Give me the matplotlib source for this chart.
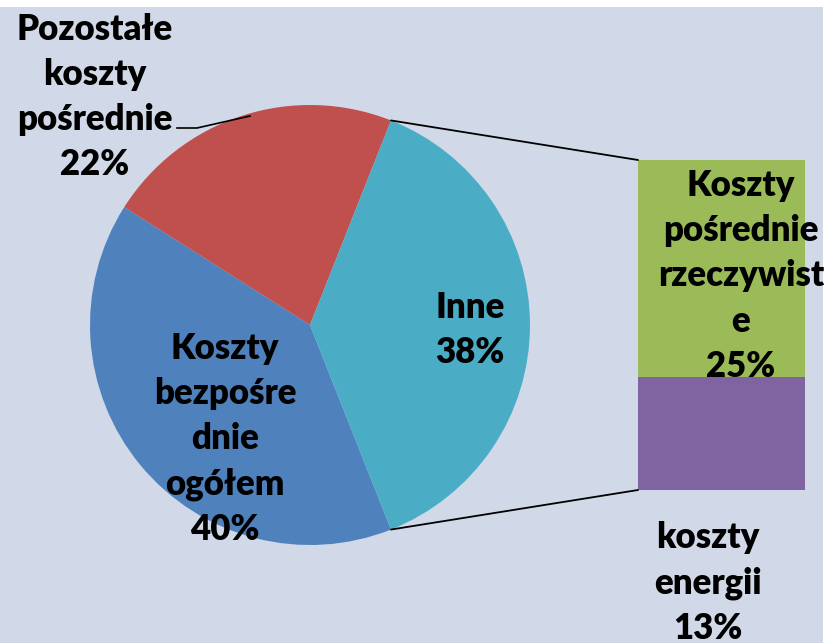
#!/usr/bin/env python3
"""
Pie-of-pie chart: struktura kosztów (Inne rozbite na słupek).
"""
import numpy as np
import matplotlib.pyplot as plt
from matplotlib.patches import ConnectionPatch, Rectangle

W, H = 825, 643

# main pie
pie_labels = ["Koszty\nbezpośre\ndnie\nogółem\n40%", "Pozostałe\nkoszty\npośrednie\n22%", "Inne\n38%"]
pie_values = [40, 22, 38]
pie_colors = ["#4f81bd", "#c0504d", "#4bacc6"]

# breakdown of "Inne"
bar_labels = ["Koszty\npośrednie\nrzeczywist\ne\n25%", "koszty\nenergii\n13%"]
bar_values = [25, 13]
bar_colors = ["#9bbb59", "#8064a2"]

BG = "#d1d8e7"


def px(x, y, w, h):
    # pixel box (top-left origin) -> figure fraction rect
    return [x / W, (H - y - h) / H, w / W, h / H]


def main() -> None:
    plt.rcParams["font.family"] = ["Lato", "DejaVu Sans"]
    fig = plt.figure(figsize=(W / 100, H / 100), dpi=100, facecolor="white")
    fig.patches.append(Rectangle((0, 0), 823 / W, 636 / H, transform=fig.transFigure,
                                 facecolor=BG, edgecolor="none", zorder=-10))

    # pie
    ax_pie = fig.add_axes(px(90, 105, 440, 440))
    other = pie_values[-1] / sum(pie_values) * 360
    wedges, _ = ax_pie.pie(pie_values, colors=pie_colors, startangle=-other / 2,
                           counterclock=False, radius=1.0)
    ax_pie.set_xlim(-1, 1)
    ax_pie.set_ylim(-1, 1)
    ax_pie.axis("off")

    # bar for "Inne"
    ax_bar = fig.add_axes(px(638, 160, 167, 330))
    bottom = sum(bar_values)
    for val, col in zip(bar_values, bar_colors):
        bottom -= val
        ax_bar.bar(0, val, bottom=bottom, width=1.0, color=col, edgecolor="none")
    ax_bar.set_xlim(-0.5, 0.5)
    ax_bar.set_ylim(0, sum(bar_values))
    ax_bar.axis("off")

    # connecting lines from "Inne" wedge to the bar
    w = wedges[-1]
    for ang, yb in [(w.theta2, sum(bar_values)), (w.theta1, 0)]:
        xa, ya = np.cos(np.radians(ang)), np.sin(np.radians(ang))
        con = ConnectionPatch(xyA=(xa, ya), coordsA=ax_pie.transData,
                              xyB=(-0.5, yb), coordsB=ax_bar.transData,
                              color="black", lw=1.3)
        fig.add_artist(con)

    # text overlay in pixel coordinates
    ov = fig.add_axes([0, 0, 1, 1], facecolor="none")
    ov.set_xlim(0, W)
    ov.set_ylim(H, 0)
    ov.axis("off")
    kw = dict(ha="center", va="center", fontsize=25, fontweight="heavy",
              color="black", linespacing=1.45)
    ov.text(225, 439, pie_labels[0], **kw)
    ov.text(95, 97, pie_labels[1], **kw)
    ov.text(470, 330, pie_labels[2], **kw)
    ov.text(741, 276, bar_labels[0], **kw, clip_on=False)
    ov.text(708, 583, bar_labels[1], **kw)
    ov.plot([177, 197, 250], [128, 128, 116], color="black", lw=1.2)

    fig.savefig("out.png", dpi=100, facecolor=fig.get_facecolor())
    plt.close(fig)


if __name__ == "__main__":
    main()
